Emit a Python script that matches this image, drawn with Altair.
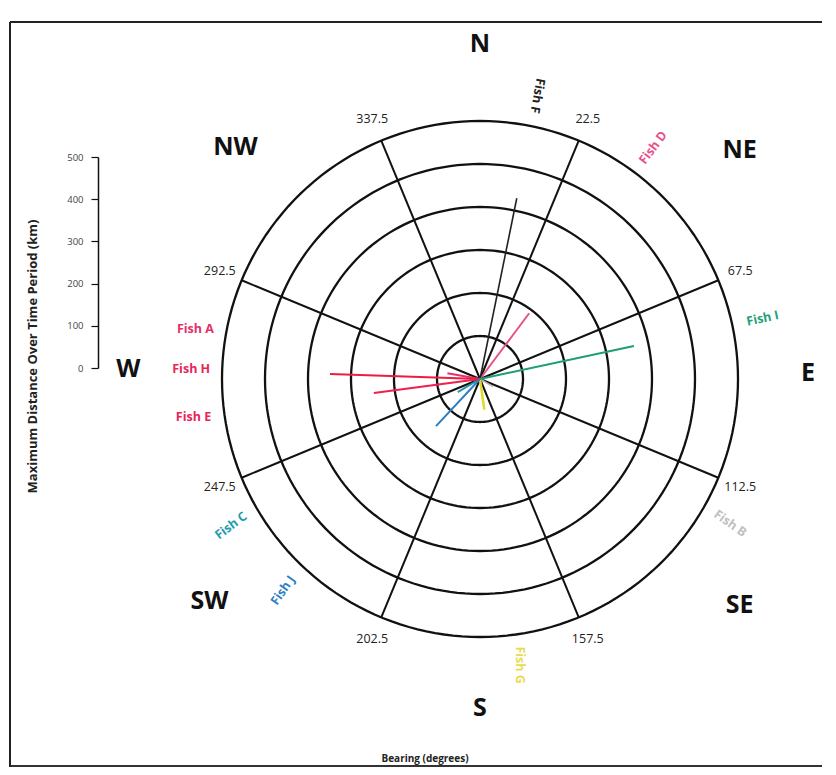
import altair as alt
import pandas as pd

# ---- data ----
fish_names = ["Fish A", "Fish B", "Fish C", "Fish D", "Fish E",
              "Fish F", "Fish G", "Fish H", "Fish I", "Fish J"]
fish_bearing = [280, 120, 239.5, 36.8, 262.5, 11.5, 172, 271.9, 77.9, 223]
fish_distance = [77, 35, 60, 191, 249, 429, 72, 349, 366, 150]

ring_radii = [100, 200, 300, 400, 500, 600]
spoke_bearings = [22.5, 67.5, 112.5, 157.5, 202.5, 247.5, 292.5, 337.5]
spoke_labels = ["22.5", "67.5", "112.5", "157.5", "202.5", "247.5", "292.5", "337.5"]
compass_names = ["N", "NE", "E", "SE", "S", "SW", "W", "NW"]
axis_ticks = [0, 100, 200, 300, 400, 500]
x_title = "Bearing (degrees)"
y_title = "Maximum Distance Over Time Period (km)"

# ---- layout / styles ----
compass_pos_bearing = [0, 48.6, 89, 131, 180, 230.6, 271.6, 313.5]
compass_pos_km = [778, 805, 763, 800, 765, 814, 818, 784]
fish_colors = ["#e3306a", "#b5b5b5", "#1f9bb0", "#e8508a", "#ee2050",
               "#222222", "#e6d628", "#ee1c40", "#1e9e72", "#2f7cc0"]
label_colors = ["#e3306a", "#c0c0c0", "#1f9bb0", "#e8508a", "#e8245a",
                "#222222", "#e8dc50", "#e8245a", "#22a07a", "#2f7fc4"]
label_angles = [0, 35, -37, -53, 0, 100, 90, 0, -12, -55]
fish_widths = [2, 1.5, 2, 2, 2.2, 1.6, 2.5, 2.2, 2, 2]

CX, CY = 480, 379       # page position of the centre
K = 0.43                # pixels per km
W, H = 820, 759
xs = alt.Scale(domain=[(8 - CX) / K, (8 + W - CX) / K], nice=False, zero=False)
ys = alt.Scale(domain=[(CY - 8 - H) / K, (CY - 8) / K], nice=False, zero=False)
polar = dict(px="datum.r*sin(datum.b*PI/180)", py="datum.r*cos(datum.b*PI/180)")

FONT = "Open Sans"


def pos():
    return dict(x=alt.X("px:Q", scale=xs, axis=None),
                y=alt.Y("py:Q", scale=ys, axis=None))


# rings
ring_df = pd.DataFrame([(r, a) for r in ring_radii for a in range(0, 361, 2)],
                       columns=["r", "b"])
rings = alt.Chart(ring_df).transform_calculate(**polar).mark_line(
    color="#111", strokeWidth=2.3).encode(detail="r:N", order="b:Q", **pos())

# spokes
spoke_df = pd.DataFrame({"b": spoke_bearings, "r": [max(ring_radii)] * len(spoke_bearings),
                         "label": spoke_labels})
spokes = alt.Chart(spoke_df).transform_calculate(**polar).mark_rule(
    color="#111", strokeWidth=2).encode(x2=alt.datum(0), y2=alt.datum(0), **pos())

spoke_text = alt.Chart(spoke_df).transform_calculate(r="655").transform_calculate(
    **polar).mark_text(fontSize=12.5, font=FONT, color="#222").encode(
    text="label:N", **pos())

# compass
comp_df = pd.DataFrame({"name": compass_names, "b": compass_pos_bearing,
                        "r": compass_pos_km})
compass = alt.Chart(comp_df).transform_calculate(**polar).mark_text(
    fontSize=25, fontWeight="bold", font=FONT, color="#111").encode(
    text="name:N", **pos())

# fish
fish_df = pd.DataFrame({"name": fish_names, "b": fish_bearing, "r": fish_distance,
                        "color": fish_colors, "lcolor": label_colors,
                        "angle": label_angles, "w": fish_widths})
fish_lines = alt.Chart(fish_df).transform_calculate(**polar).mark_rule().encode(
    x2=alt.datum(0), y2=alt.datum(0),
    color=alt.Color("color:N", scale=None),
    strokeWidth=alt.StrokeWidth("w:Q", scale=None), **pos())

fish_text = alt.Chart(fish_df).transform_calculate(lr="672").transform_calculate(
    px="datum.lr*sin(datum.b*PI/180)", py="datum.lr*cos(datum.b*PI/180)").mark_text(
    fontSize=12.5, fontWeight="bold", font=FONT).encode(
    text="name:N", color=alt.Color("lcolor:N", scale=None),
    angle=alt.Angle("angle:Q", scale=None), **pos())

# x title
x_title_layer = alt.Chart(pd.DataFrame({"t": [x_title]})).mark_text(
    fontSize=10, fontWeight="bold", font=FONT, color="#222").encode(
    text="t:N", x=alt.value(417), y=alt.value(751))

# distance axis on the left
axis_layer = alt.Chart(pd.DataFrame({"v": axis_ticks})).mark_point(opacity=0).encode(
    y=alt.Y("v:Q", scale=alt.Scale(domain=[0, 500], range=[360, 149], nice=False),
            axis=alt.Axis(orient="left", offset=-90, values=axis_ticks, grid=False,
                          tickSize=7, tickColor="#111", domainColor="#111",
                          domainWidth=1.5, tickWidth=1.2,
                          labelFontSize=9.5, labelFont=FONT, labelColor="#444",
                          labelPadding=8,
                          title=y_title,
                          titleFontSize=13, titleFontWeight="bold", titleFont=FONT,
                          titleColor="#222", titleAngle=270, titleX=-66, titleY=348,
                          titleAlign="center", titleBaseline="middle")))

# scanned-page border: left edge, top edge and bottom edge as three rules
edge_top = alt.Chart(pd.DataFrame({"k": ["top"]})).mark_rule(
    color="#222", strokeWidth=2).encode(
    x=alt.value(2), x2=alt.value(W - 6), y=alt.value(14))
edge_bottom = alt.Chart(pd.DataFrame({"k": ["bottom"]})).mark_rule(
    color="#333", strokeWidth=2).encode(
    x=alt.value(2), x2=alt.value(W - 6), y=alt.value(758))
edge_left = alt.Chart(pd.DataFrame({"k": ["left"]})).mark_rule(
    color="#222", strokeWidth=2).encode(
    x=alt.value(2), y=alt.value(14), y2=alt.value(759))

chart = alt.layer(
    rings, spokes, fish_lines, spoke_text, compass, fish_text, x_title_layer,
    axis_layer, edge_top, edge_bottom, edge_left
).resolve_scale(y="independent").properties(
    width=W, height=H, padding=0, autosize="none", background="white"
).configure_view(stroke=None)

chart.save("out.html", embed_options={"renderer": "svg", "actions": False})
